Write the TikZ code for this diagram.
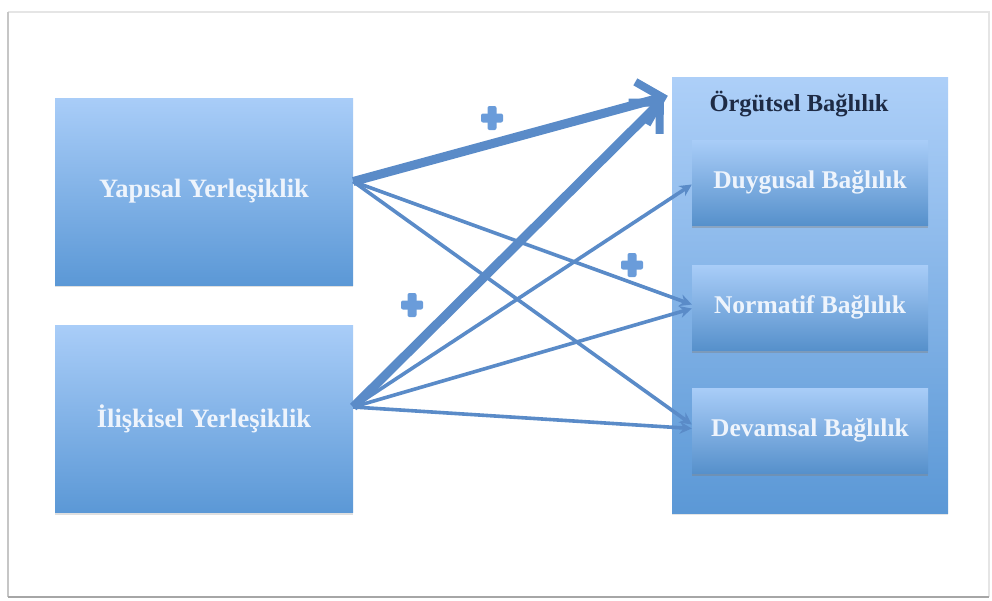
\documentclass[tikz,border=0pt]{standalone}
\usepackage{fontspec}
\setmainfont{Liberation Serif}
\usetikzlibrary{arrows.meta,shadows}

\definecolor{boxtop}{HTML}{A9CDF8}
\definecolor{boxbot}{HTML}{5B98D6}
\definecolor{linkblue}{HTML}{5A8BC8}
\definecolor{plusblue}{HTML}{6A9CDA}
\definecolor{titleink}{HTML}{1E2B45}
\definecolor{labelink}{HTML}{EEF4FC}

\tikzset{
  bluebox/.style={rectangle, draw=none, top color=boxtop, bottom color=boxbot,
    minimum width=298pt, minimum height=187pt, inner sep=0pt,
    font=\fontsize{26.5}{29}\selectfont\bfseries, text=labelink,
    drop shadow={opacity=0.25, shadow xshift=0pt, shadow yshift=-2pt}},
  holder/.style={rectangle, draw=none, top color=boxtop!95!white, bottom color=boxbot,
    minimum width=276pt, minimum height=436pt, inner sep=0pt,
    drop shadow={opacity=0.2, shadow xshift=0pt, shadow yshift=-2pt}},
  subbox/.style={rectangle, draw=none, top color=boxtop, bottom color=boxbot!95!black,
    minimum width=236pt, minimum height=85pt, inner sep=0pt,
    font=\fontsize{25.5}{28}\selectfont\bfseries, text=labelink,
    drop shadow={opacity=0.4, shadow xshift=0pt, shadow yshift=-3pt}},
  thinlink/.style={draw=linkblue, line width=3.6pt,
    -{Stealth[length=12pt,width=12pt]}},
  thicklink/.style={draw=linkblue, line width=9pt,
    -{Straight Barb[length=22pt,width=44pt,line width=8pt 0 0]}},
}

% a small "+" sign drawn as two crossed bars
\newcommand\plusmark[2]{%
  \fill[plusblue, rounded corners=2pt] (#1-11,#2-4.5) rectangle (#1+11,#2+4.5);
  \fill[plusblue, rounded corners=2pt] (#1-4.5,#2-12) rectangle (#1+4.5,#2+12);
}

\begin{document}
\begin{tikzpicture}[x=1pt, y=-1pt]
  \useasboundingbox (0,0) rectangle (992,600);
  \fill[white] (0,0) rectangle (992,600);

  % outer frame
  \draw[gray!20, line width=1.2pt] (8,12) -- (989,12) -- (989,597);
  \draw[gray!45, line width=1.5pt] (8,12) -- (8,597);
  \draw[gray!70, line width=2.2pt] (8,597) -- (989,597);

  % left boxes
  \node[bluebox] (yap) at (204,191.5) {Yapısal Yerleşiklik};
  \node[bluebox] (ili) at (204,419) {İlişkisel Yerleşiklik};

  % right container with its three parts
  \node[holder] (org) at (810,295) {};
  \node[font=\fontsize{24.5}{27}\selectfont\bfseries, text=titleink] (orgt) at (799,104) {Örgütsel Bağlılık};
  \node[subbox] (duy) at (810,182.5) {Duygusal Bağlılık};
  \node[subbox] (nor) at (810,307.5) {Normatif Bağlılık};
  \node[subbox] (dev) at (810,430.5) {Devamsal Bağlılık};

  % link start and end points
  \coordinate (ys) at ([yshift=10pt]yap.east);
  \coordinate (is) at ([yshift=12pt]ili.east);
  \coordinate (ot1) at ([xshift=-4pt,yshift=-19pt]org.north west);
  \coordinate (ot2) at ([xshift=-8pt,yshift=-22pt]org.north west);
  \coordinate (de) at ([yshift=-2pt]duy.west);
  \coordinate (ne1) at ([yshift=3pt]nor.west);
  \coordinate (ne2) at ([yshift=-1pt]nor.west);
  \coordinate (ve1) at ([yshift=6pt]dev.west);
  \coordinate (ve2) at ([yshift=2pt]dev.west);

  % thin links
  \draw[thinlink] (ys) -- (ne1);
  \draw[thinlink] (ys) -- (ve1);
  \draw[thinlink] (is) -- (de);
  \draw[thinlink] (is) -- (ne2);
  \draw[thinlink] (is) -- (ve2);

  % thick links to the overall commitment
  \draw[thicklink] (is) -- (ot2);
  \draw[thicklink] (ys) -- (ot1);

  % plus signs
  \plusmark{492}{118}
  \plusmark{632}{265}
  \plusmark{412}{305}
\end{tikzpicture}
\end{document}
